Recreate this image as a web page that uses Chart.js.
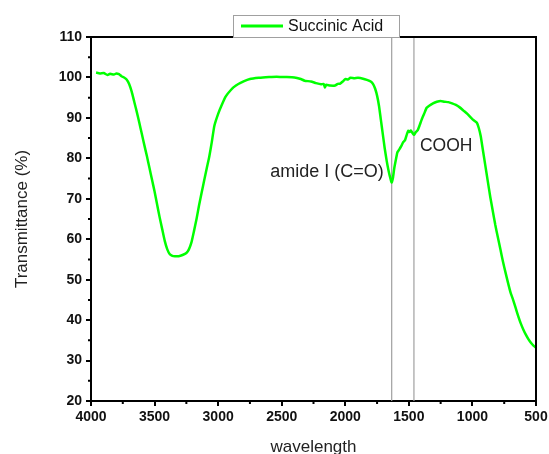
<!DOCTYPE html>
<html>
<head>
<meta charset="utf-8">
<script src="https://cdn.jsdelivr.net/npm/chart.js@4.4.1/dist/chart.umd.min.js"></script>
<style>
  html, body { margin: 0; padding: 0; background: #fff; }
  #wrap { width: 549px; height: 454px; }
</style>
</head>
<body>
<div id="wrap"><canvas id="chartFtir"></canvas></div>
<script>
// FTIR spectrum - Succinic Acid
const seriesName = 'Succinic Acid';
const wavenumber = [
  3960, 3930, 3900, 3870, 3850, 3820, 3800, 3780, 3760, 3740, 3720, 3700, 3680, 3660, 3640, 3620,
  3600, 3580, 3560, 3540, 3520, 3500, 3480, 3460, 3440, 3420, 3400, 3380, 3360, 3340, 3310, 3280,
  3250, 3230, 3210, 3190, 3170, 3150, 3130, 3110, 3090, 3070, 3050, 3030, 3000, 2970, 2940, 2900,
  2860, 2800, 2750, 2680, 2600, 2540, 2480, 2400, 2350, 2320, 2270, 2230, 2190, 2170, 2160, 2150,
  2120, 2080, 2060, 2040, 2020, 2000, 1980, 1960, 1930, 1900, 1860, 1830, 1800, 1780, 1765, 1750,
  1735, 1720, 1705, 1690, 1675, 1660, 1645, 1635, 1625, 1615, 1600, 1590, 1575, 1560, 1545, 1530,
  1515, 1505, 1495, 1485, 1470, 1460, 1445, 1430, 1415, 1400, 1380, 1360, 1340, 1310, 1280, 1250,
  1220, 1190, 1160, 1130, 1100, 1070, 1040, 1010, 990, 965, 950, 935, 920, 900, 880, 860,
  840, 820, 800, 780, 760, 740, 720, 700, 680, 660, 640, 620, 600, 580, 560, 540,
  520, 500
];
const transmittance = [
  101.2, 101.0, 101.1, 100.6, 100.9, 100.7, 101.0, 100.8, 100.3, 100.0, 99.5, 98.4, 96.5, 94.0, 91.5, 88.8,
  86.0, 83.2, 80.5, 77.6, 74.7, 71.8, 68.6, 65.4, 62.5, 59.6, 57.5, 56.3, 55.9, 55.8, 55.8, 56.1,
  56.6, 57.5, 59.2, 62.0, 65.0, 68.4, 71.5, 74.5, 77.5, 80.4, 84.0, 88.0, 91.0, 93.3, 95.3, 96.9,
  98.0, 99.0, 99.6, 99.9, 100.1, 100.2, 100.1, 100.0, 99.6, 99.2, 99.0, 98.6, 98.3, 98.4, 97.5, 98.2,
  98.0, 98.0, 98.4, 98.5, 99.0, 99.6, 99.5, 99.9, 99.8, 99.9, 99.7, 99.4, 99.0, 98.3, 97.2, 95.5,
  93.0, 89.5, 86.0, 82.5, 79.5, 77.0, 75.0, 74.0, 75.2, 77.5, 80.0, 81.5, 82.2, 83.0, 84.0, 84.5,
  86.0, 86.8, 86.5, 86.9, 86.2, 85.8, 86.5, 87.0, 88.2, 89.5, 91.0, 92.5, 93.0, 93.6, 94.0, 94.2,
  94.0, 93.9, 93.6, 93.2, 92.6, 91.8, 91.0, 90.0, 89.4, 88.8, 87.5, 85.5, 82.5, 78.5, 74.5, 70.5,
  67.0, 63.5, 60.5, 57.5, 54.5, 51.8, 49.2, 46.8, 45.0, 43.0, 41.0, 39.2, 37.7, 36.4, 35.3, 34.4,
  33.7, 33.2
];

// marker lines and their labels
const markerPositions = [1635, 1460];
const markerLabels = ['amide I (C=O)', 'COOH'];
const labelLevels = [76.6, 83.0];

const xTicks = [4000, 3500, 3000, 2500, 2000, 1500, 1000, 500];
const yTicks = [20, 30, 40, 50, 60, 70, 80, 90, 100, 110];
const xMinor = [3750, 3250, 2750, 2250, 1750, 1250, 750];
const yMinor = [25, 35, 45, 55, 65, 75, 85, 95, 105];

const green = '#00ff00';
const fontFam = '"Liberation Sans", Arial, sans-serif';

const datasets = [{
  label: seriesName,
  data: wavenumber.map((w, i) => ({ x: w, y: transmittance[i] })),
  borderColor: green,
  borderWidth: 2.5,
  pointRadius: 0,
  tension: 0.15,
  fill: false
}];
markerPositions.forEach(m => {
  datasets.push({
    label: 'marker',
    data: [{ x: m, y: yTicks[0] }, { x: m, y: yTicks[yTicks.length - 1] }],
    borderColor: '#a0a0a0',
    borderWidth: 1.2,
    pointRadius: 0,
    fill: false
  });
});

const extras = {
  id: 'extras',
  afterDraw(chart) {
    const { ctx, chartArea: a, scales: { x, y } } = chart;
    ctx.save();
    // frame top / right
    ctx.strokeStyle = '#000';
    ctx.lineWidth = 2;
    ctx.beginPath();
    ctx.moveTo(a.left, a.top);
    ctx.lineTo(a.right, a.top);
    ctx.lineTo(a.right, a.bottom);
    ctx.stroke();
    // minor ticks
    ctx.beginPath();
    xMinor.forEach(v => {
      const px = x.getPixelForValue(v);
      ctx.moveTo(px, a.bottom);
      ctx.lineTo(px, a.bottom + 3);
    });
    yMinor.forEach(v => {
      const py = y.getPixelForValue(v);
      ctx.moveTo(a.left, py);
      ctx.lineTo(a.left - 3, py);
    });
    ctx.stroke();
    // marker labels
    ctx.fillStyle = '#222';
    ctx.textBaseline = 'middle';
    ctx.font = '18px ' + fontFam;
    ctx.textAlign = 'right';
    ctx.fillText(markerLabels[0], x.getPixelForValue(markerPositions[0]) - 8, y.getPixelForValue(labelLevels[0]));
    ctx.font = '17.5px ' + fontFam;
    ctx.textAlign = 'left';
    ctx.fillText(markerLabels[1], x.getPixelForValue(markerPositions[1]) + 6, y.getPixelForValue(labelLevels[1]));
    // legend box
    const bx = 233, bw = 166, by = 15, bh = 22;
    ctx.fillStyle = '#fff';
    ctx.fillRect(bx, by, bw, bh);
    ctx.strokeStyle = '#a0a0a0';
    ctx.lineWidth = 1;
    ctx.strokeRect(bx + 0.5, by + 0.5, bw, bh);
    ctx.strokeStyle = green;
    ctx.lineWidth = 3;
    ctx.beginPath();
    ctx.moveTo(bx + 8, by + 11);
    ctx.lineTo(bx + 50, by + 11);
    ctx.stroke();
    ctx.fillStyle = '#111';
    ctx.font = '16px ' + fontFam;
    ctx.textAlign = 'left';
    ctx.fillText(seriesName, bx + 55, by + 12);
    ctx.restore();
  }
};

new Chart(document.getElementById('chartFtir'), {
  type: 'line',
  data: { datasets: datasets },
  options: {
    responsive: true,
    maintainAspectRatio: false,
    animation: false,
    layout: { padding: { top: 37, right: 13, left: 12, bottom: 0 } },
    plugins: {
      legend: { display: false },
      tooltip: { enabled: false }
    },
    scales: {
      x: {
        type: 'linear',
        reverse: true,
        min: 500,
        max: 4000,
        afterFit: s => { s.height = 53; s.paddingLeft = 0; s.paddingRight = 0; },
        afterBuildTicks: s => { s.ticks = xTicks.map(v => ({ value: v })); },
        grid: { drawOnChartArea: false, drawTicks: true, tickLength: 5, color: '#000', lineWidth: 2 },
        border: { display: true, color: '#000', width: 2 },
        ticks: { color: '#111', padding: 3, maxRotation: 0, callback: v => String(v), font: { family: fontFam, size: 14, weight: 'bold' } },
        title: { display: true, text: 'wavelength', color: '#222', padding: { top: 4, bottom: -4 }, font: { family: fontFam, size: 17 } }
      },
      y: {
        min: 20,
        max: 110,
        afterFit: s => { s.width = 79; s.paddingTop = 0; s.paddingBottom = 0; },
        afterBuildTicks: s => { s.ticks = yTicks.map(v => ({ value: v })); },
        grid: { drawOnChartArea: false, drawTicks: true, tickLength: 5, color: '#000', lineWidth: 2 },
        border: { display: true, color: '#000', width: 2 },
        ticks: { color: '#111', padding: 4, callback: v => String(v), font: { family: fontFam, size: 14, weight: 'bold' } },
        title: { display: true, text: 'Transmittance (%)', color: '#222', padding: { top: 0, bottom: 0 }, font: { family: fontFam, size: 17 } }
      }
    }
  },
  plugins: [extras]
});
</script>
</body>
</html>
